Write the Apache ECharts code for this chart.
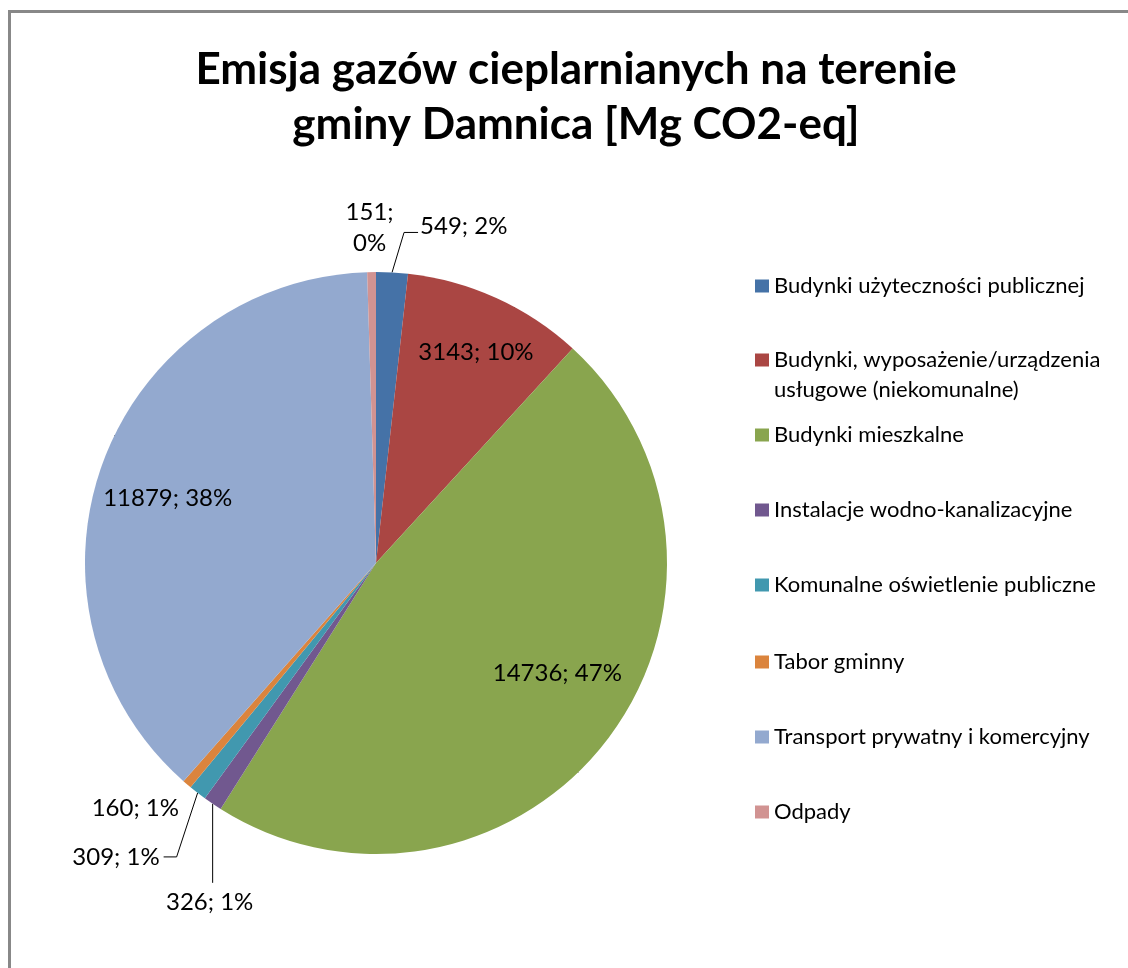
<!DOCTYPE html>
<html>
<head>
<meta charset="utf-8">
<title>Emisja gazów cieplarnianych - gmina Damnica</title>
<script src="https://cdn.jsdelivr.net/npm/echarts@6/dist/echarts.min.js"></script>
<style>
  html, body { margin: 0; padding: 0; background: #fff; }
  #chart { width: 1128px; height: 968px; }
</style>
</head>
<body>
<div id="chart"></div>
<script>
  // data
  const titleLines = ["Emisja gazów cieplarnianych na terenie", "gminy Damnica [Mg CO2-eq]"];
  const categories = [
    "Budynki użyteczności publicznej",
    "Budynki, wyposażenie/urządzenia usługowe (niekomunalne)",
    "Budynki mieszkalne",
    "Instalacje wodno-kanalizacyjne",
    "Komunalne oświetlenie publiczne",
    "Tabor gminny",
    "Transport prywatny i komercyjny",
    "Odpady",
  ];
  const values = [549, 3143, 14736, 326, 309, 160, 11879, 151];

  // look
  const colors = ["#4572A7", "#AA4643", "#89A54E", "#71588F", "#4198AF", "#DB843D", "#93A9CF", "#D19392"];
  const FONT = 'Lato, "Liberation Sans", sans-serif';
  const CX = 376, CY = 563, R = 291;
  const legendY = [286, 360, 435, 510, 585, 662, 737, 812];
  const LEGEND_LH = 30;

  // labels drawn inside the slice: [part of radius, turn in degrees from the slice middle]
  const insideLabels = { 1: [0.8, 1], 2: [0.73, -6], 6: [0.75, -2.5] };
  // labels drawn outside: leader bend / end and text anchor, relative to the slice edge
  const outsideLabels = {
    0: { bend: [12, -40], end: [26, -40], text: [28, -46], align: "left" },
    3: { bend: [0, 79], end: [0, 79], text: [-3, 98], align: "center" },
    4: { bend: [-21, 64], end: [-34, 64], text: [-38, 64], align: "right" },
    5: { bend: [0, 0], end: [0, 0], text: [-8, 24], align: "right" },
    7: { bend: [0, 0], end: [0, 0], text: [-2, -44], align: "center" },
  };

  const placeLabel = (p) => {
    const i = p.dataIndex;
    const r = p.labelRect;
    if (insideLabels[i]) {
      const [k, turn] = insideLabels[i];
      const a = Math.atan2(r.y + r.height / 2 - CY, r.x + r.width / 2 - CX) + (turn * Math.PI) / 180;
      return {
        x: CX + Math.cos(a) * R * k,
        y: CY + Math.sin(a) * R * k,
        align: "center",
        verticalAlign: "middle",
      };
    }
    const o = outsideLabels[i];
    const pts = p.labelLinePoints;
    if (!o || !pts) return {};
    const [ex, ey] = pts[0];
    return {
      x: ex + o.text[0],
      y: ey + o.text[1],
      align: o.align,
      verticalAlign: "middle",
      labelLinePoints: [
        [ex, ey],
        [ex + o.bend[0], ey + o.bend[1]],
        [ex + o.end[0], ey + o.end[1]],
      ],
    };
  };

  const pieData = categories.map((name, i) => ({
    name,
    value: values[i],
    label: {
      position: insideLabels[i] ? "inside" : "outside",
      formatter: i === 7 ? "{c};\n{d}%" : "{c}; {d}%",
    },
  }));

  const legends = categories.map((name, i) => {
    const twoLines = name.includes("urządzenia ");
    return {
      data: [name],
      orient: "vertical",
      left: 755,
      top: legendY[i] - (twoLines ? LEGEND_LH * 1.5 : LEGEND_LH / 2),
      padding: 0,
      icon: "rect",
      itemWidth: 14,
      itemHeight: 13,
      selectedMode: false,
      // empty first line keeps the square level with the first text line
      formatter: twoLines ? (n) => "\n" + n.replace("urządzenia ", "urządzenia\n") : "{name}",
      textStyle: {
        fontFamily: FONT,
        fontSize: 22,
        color: "#000",
        lineHeight: LEGEND_LH,
      },
    };
  });

  const chart = echarts.init(document.getElementById("chart"));
  chart.setOption({
    animation: false,
    color: colors,
    title: {
      text: titleLines.join("\n"),
      left: 576,
      top: 42,
      padding: 0,
      textAlign: "center",
      textStyle: { fontFamily: FONT, fontSize: 44, fontWeight: "bold", color: "#000", lineHeight: 55 },
    },
    legend: legends,
    graphic: [
      {
        type: "polyline",
        silent: true,
        shape: { points: [[9.5, 968], [9.5, 11.5], [1128, 11.5]] },
        style: { stroke: "#888", lineWidth: 3, fill: null },
      },
    ],
    series: [
      {
        type: "pie",
        center: [CX, CY],
        radius: R,
        startAngle: 90,
        clockwise: true,
        avoidLabelOverlap: false,
        percentPrecision: 0,
        silent: true,
        emphasis: { disabled: true },
        itemStyle: { borderWidth: 0 },
        label: { color: "#000", fontFamily: FONT, fontSize: 24, lineHeight: 31 },
        labelLine: { show: true, length: 20, length2: 10, lineStyle: { color: "#000", width: 1 } },
        labelLayout: placeLabel,
        data: pieData,
      },
    ],
  });
</script>
</body>
</html>
